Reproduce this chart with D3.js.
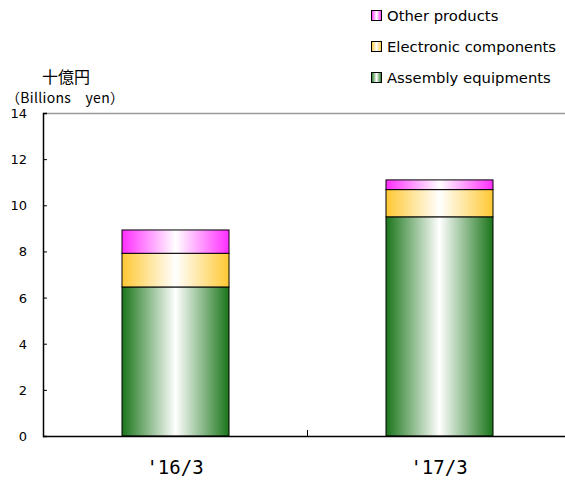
<!DOCTYPE html>
<html><head><meta charset="utf-8">
<script src="https://cdn.jsdelivr.net/npm/d3@7"></script>
<style>body{margin:0;background:#fff;}svg{display:block;font-family:"DejaVu Sans","Noto Sans CJK JP",sans-serif;}</style>
</head><body><div id="chart"></div>
<script>
const categories = ["'16/3", "'17/3"];
const seriesNames = ["Assembly equipments", "Electronic components", "Other products"];
const assembly = [6.46, 9.5];
const electronic = [1.46, 1.18];
const other = [1.01, 0.42];
const yTicks = [0, 2, 4, 6, 8, 10, 12, 14];
const colors = ["#1a751a", "#ffc833", "#ff2eff"];
const legendOrder = [2, 1, 0];

(function () {
const W = 565, H = 480;
const svg = d3.select("#chart").append("svg").attr("width", W).attr("height", H);
const defs = svg.append("defs");
colors.forEach((c, i) => {
  const g = defs.append("linearGradient").attr("id", "g" + i).attr("x1", "0").attr("x2", "1").attr("y1", "0").attr("y2", "0");
  g.append("stop").attr("offset", "0").attr("stop-color", c);
  g.append("stop").attr("offset", "0.5").attr("stop-color", "#fff");
  g.append("stop").attr("offset", "1").attr("stop-color", c);
});

const pL = 43, pR = 571, pT = 113, pB = 436;
const x = d3.scaleBand().domain(categories).range([pL, pR]).paddingInner(0).paddingOuter(0);
const y = d3.scaleLinear().domain([0, 14]).range([pB, pT]);

svg.append("line").attr("x1", pL).attr("x2", pR).attr("y1", pT + 0.5).attr("y2", pT + 0.5).attr("stroke", "#999").attr("stroke-width", 1.5);

const data = categories.map((c, i) => ({cat: c, vals: [assembly[i], electronic[i], other[i]]}));
const stack = d3.stack().keys([0, 1, 2]).value((d, k) => d.vals[k]);
const series = stack(data);
const bw = 107;
series.forEach((s, k) => {
  svg.append("g").selectAll("rect").data(s).join("rect")
    .attr("x", d => x(d.data.cat) + x.bandwidth() / 2 - bw / 2 + 0.5)
    .attr("width", bw)
    .attr("y", d => y(d[1]))
    .attr("height", d => y(d[0]) - y(d[1]))
    .attr("fill", "url(#g" + k + ")")
    .attr("stroke", "#000").attr("stroke-width", 1);
});

const ya = svg.append("g").attr("transform", `translate(${pL},0)`)
  .call(d3.axisRight(y).tickValues(yTicks).tickSize(4).tickFormat(""));
ya.select(".domain").attr("stroke", "#000").attr("stroke-width", 1.5);
ya.selectAll(".tick line").attr("stroke", "#000");
svg.append("g").selectAll("text").data(yTicks).join("text")
  .attr("x", 27).attr("y", d => y(d) + 5).attr("text-anchor", "end")
  .attr("font-size", 13).attr("fill", "#000").text(d => d);

svg.append("line").attr("x1", pL).attr("x2", pR).attr("y1", pB + 0.5).attr("y2", pB + 0.5).attr("stroke", "#000").attr("stroke-width", 1.5);
svg.append("g").selectAll("line").data(categories.slice(1)).join("line")
  .attr("x1", d => x(d) + 0.5).attr("x2", d => x(d) + 0.5).attr("y1", pB).attr("y2", pB - 6).attr("stroke", "#000");
svg.append("g").selectAll("text").data(categories).join("text")
  .attr("x", d => x(d) + x.bandwidth() / 2).attr("y", 474).attr("text-anchor", "middle")
  .attr("font-size", 19).attr("font-family", "DejaVu Sans Mono").attr("fill", "#000").text(d => d);

svg.append("text").attr("x", 42).attr("y", 83).attr("font-size", 16).attr("font-family", "Noto Sans CJK JP").text("十億円");
svg.append("text").attr("x", 6).attr("y", 103).attr("font-size", 14).attr("font-family", "Noto Sans CJK JP")
  .attr("textLength", 118).attr("lengthAdjust", "spacing").text("（Billions　yen）");

const lg = svg.append("g");
legendOrder.forEach((k, i) => {
  const cy = 16 + i * 31;
  lg.append("rect").attr("x", 371.5).attr("y", cy - 5.5).attr("width", 10).attr("height", 10)
    .attr("fill", "url(#g" + k + ")").attr("stroke", "#000");
  lg.append("text").attr("x", 387).attr("y", cy + 5).attr("font-size", 14.8).text(seriesNames[k]);
});
})();
</script></body></html>
